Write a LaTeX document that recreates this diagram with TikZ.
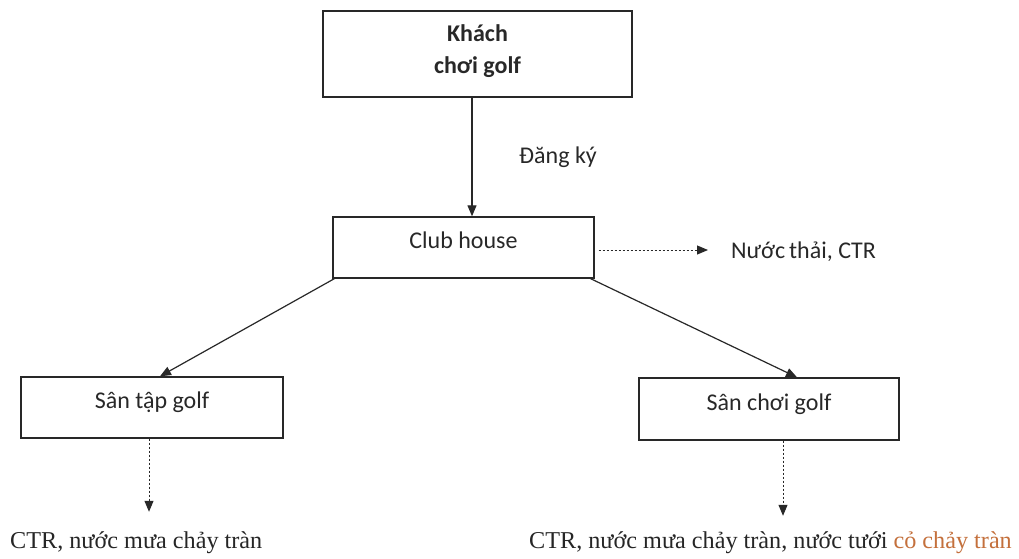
\documentclass[tikz,border=0pt]{standalone}
\usepackage{fontspec}
\setmainfont{Liberation Serif}
\newfontfamily\boxfont{Carlito}
\usetikzlibrary{arrows.meta}
\definecolor{inkgray}{RGB}{40,40,40}
\definecolor{grassorange}{RGB}{196,112,60}

\begin{document}
\begin{tikzpicture}[x=1pt,y=-1pt,
  stagebox/.style={draw=inkgray, line width=1.4pt, rectangle, inner sep=0pt,
    font=\boxfont\fontsize{24}{28}\selectfont, text=inkgray,
    text height=16pt, text depth=14pt},
  flow/.style={draw=inkgray, line width=1.2pt, -{Triangle[length=11pt,width=9pt]}},
  waste/.style={draw=inkgray, line width=1pt, dash pattern=on 2.5pt off 1.5pt,
    -{Triangle[length=11pt,width=9pt]}},
  serifnote/.style={font=\fontsize{24.2}{28}\selectfont, text=black!85, inner sep=0pt},
  sansnote/.style={font=\boxfont\fontsize{24}{28}\selectfont, text=inkgray, inner sep=0pt}
]
\useasboundingbox (0,0) rectangle (1019,558);
\fill[white] (0,0) rectangle (1019,558);

% process boxes
\node[draw=inkgray, line width=1.4pt, rectangle, minimum width=309pt, minimum height=86pt]
  (guest) at (477.5,54) {};
\node[font=\boxfont\bfseries\fontsize{24}{32}\selectfont, text=inkgray, align=center,
      inner sep=0pt] (guesttext) at (477.5,51) {Khách\\chơi golf};
\node[stagebox, minimum width=261pt, minimum height=61pt] (club) at (463.5,247.5) {Club house};
\node[stagebox, minimum width=262pt, minimum height=61pt] (range) at (152,407.5) {Sân tập golf};
\node[stagebox, minimum width=260pt, minimum height=62pt] (course) at (769,409) {Sân chơi golf};

% labels and outputs
\node[sansnote, anchor=west] (reg) at (519,157) {Đăng ký};
\node[sansnote, anchor=west] (clubout) at (731,252) {Nước\,thải, CTR};
\node[serifnote, anchor=west] (rangeout) at (10,543) {CTR, nước mưa chảy tràn};
\node[serifnote, anchor=west] (courseout) at (529,543)
  {CTR, nước mưa chảy tràn, nước tưới \textcolor{grassorange}{cỏ chảy tràn}};

% main flow
\draw[flow] ([xshift=-5.5pt]guest.south) -- ([xshift=-5.5pt]guest.south |- club.north);
\draw[flow] ([xshift=2pt]club.south west) -- ([xshift=8pt]range.north);
\draw[flow] ([xshift=-4pt]club.south east) -- ([xshift=28pt]course.north);

% waste streams
\draw[waste] ([xshift=4pt,yshift=-2.5pt]club.east) -- ([xshift=-23pt,yshift=-2.5pt]clubout.west |- club.east);
\draw[waste] ([xshift=-3pt]range.south) -- ([xshift=-3pt,yshift=20pt]range.south |- rangeout.north);
\draw[waste] ([xshift=14pt]course.south) -- ([xshift=14pt,yshift=16pt]course.south |- courseout.north);
\end{tikzpicture}
\end{document}
